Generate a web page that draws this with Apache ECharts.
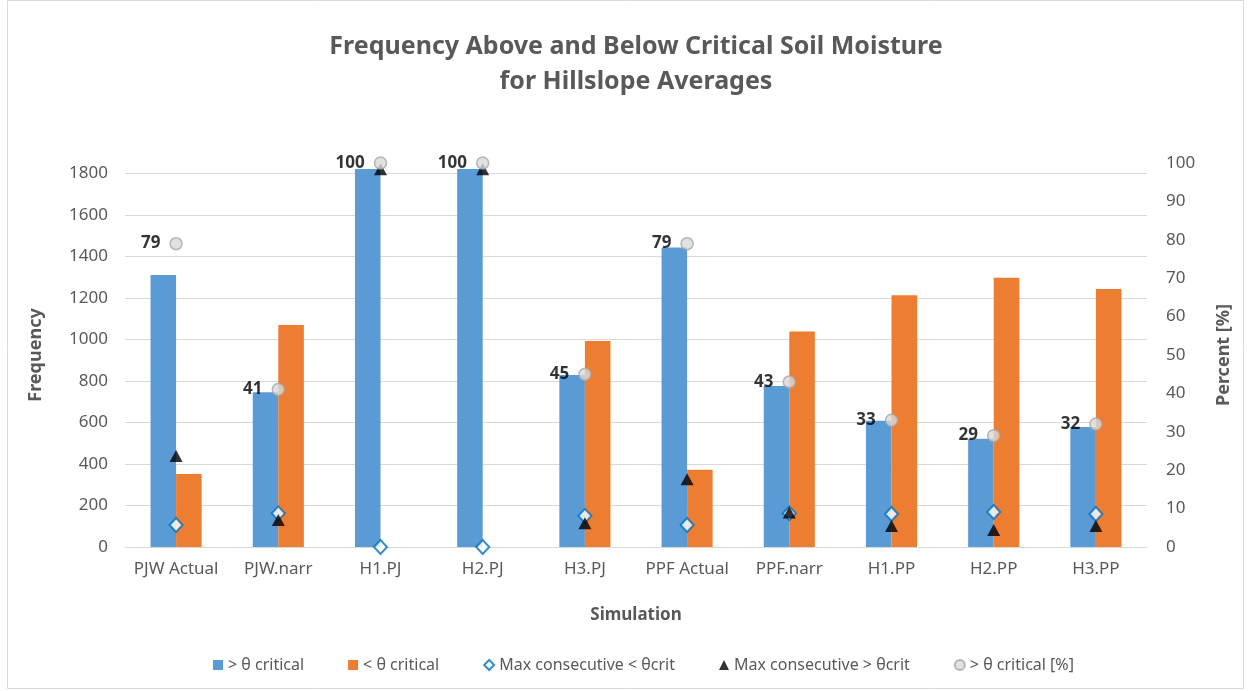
<!DOCTYPE html>
<html>
<head>
<meta charset="utf-8">
<title>Frequency Above and Below Critical Soil Moisture</title>
<script src="https://cdn.jsdelivr.net/npm/echarts@6/dist/echarts.min.js"></script>
<style>
  html, body { margin: 0; padding: 0; background: #fff; }
  #chart { width: 1250px; height: 691px; }
</style>
</head>
<body>
<div id="chart"></div>
<script>
// Simulation runs along the x axis
const categories = ['PJW Actual', 'PJW.narr', 'H1.PJ', 'H2.PJ', 'H3.PJ', 'PPF Actual', 'PPF.narr', 'H1.PP', 'H2.PP', 'H3.PP'];

// Frequency counts (left axis)
const aboveCritical = [1310, 745, 1821, 1821, 829, 1443, 776, 608, 521, 578];
const belowCritical = [352, 1070, 0, 0, 993, 372, 1038, 1213, 1297, 1243];
const maxConsecBelow = [106, 162, 0, 0, 150, 106, 162, 159, 169, 159];
const maxConsecAbove = [439, 130, 1820, 1820, 114, 327, 166, 101, 82, 101];

// Share of time above the critical value (right axis)
const abovePercent = [79, 41, 100, 100, 45, 79, 43, 33, 29, 32];

// Axis ranges
const freqMax = 1850, freqStep = 200;
const pctMax = 100, pctStep = 10;

const FONT = '"Noto Sans", "Open Sans", sans-serif';
const GREY = '#595959';

const chart = echarts.init(document.getElementById('chart'), null, { renderer: 'canvas' });

chart.setOption({
  backgroundColor: '#ffffff',
  animation: false,
  textStyle: { fontFamily: FONT },
  graphic: [{
    type: 'rect',
    shape: { x: 7.5, y: 0.5, width: 1236, height: 688 },
    style: { fill: 'none', stroke: '#d9d9d9', lineWidth: 1 },
    silent: true
  }],
  title: {
    text: 'Frequency Above and Below Critical Soil Moisture\nfor Hillslope Averages',
    left: 631,
    top: 24,
    textAlign: 'center',
    textStyle: {
      fontFamily: FONT,
      fontSize: 25,
      fontWeight: 'bold',
      color: GREY,
      lineHeight: 35
    }
  },
  legend: {
    bottom: 13,
    left: 208,
    itemGap: 44,
    itemWidth: 10,
    itemHeight: 10,
    textStyle: { fontFamily: FONT, fontSize: 16, color: GREY },
    data: [
      { name: '> θ critical', icon: 'rect' },
      { name: '< θ critical', icon: 'rect' },
      { name: 'Max consecutive < θcrit' },
      { name: 'Max consecutive > θcrit' },
      { name: '> θ critical [%]' }
    ]
  },
  grid: { left: 125, right: 103, top: 163, bottom: 144, containLabel: false },
  xAxis: {
    type: 'category',
    data: categories,
    name: 'Simulation',
    nameLocation: 'middle',
    nameGap: 60,
    nameTextStyle: { fontFamily: FONT, fontSize: 17, fontWeight: 'bold', color: GREY },
    axisLine: { lineStyle: { color: '#d9d9d9', width: 1 } },
    axisTick: { show: false },
    axisLabel: { fontFamily: FONT, fontSize: 17, color: GREY, margin: 14, interval: 0 }
  },
  yAxis: [{
    type: 'value',
    min: 0,
    max: freqMax,
    interval: freqStep,
    name: 'Frequency',
    nameLocation: 'middle',
    nameGap: 80,
    nameTextStyle: { fontFamily: FONT, fontSize: 18, fontWeight: 'bold', color: GREY },
    axisLine: { show: false },
    axisTick: { show: false },
    axisLabel: {
      fontFamily: FONT, fontSize: 17, color: GREY, margin: 17, showMaxLabel: false,
      formatter: v => String(v)
    },
    splitLine: { show: true, showMaxLine: false, lineStyle: { color: '#d9d9d9', width: 1 } }
  }, {
    type: 'value',
    min: 0,
    max: pctMax,
    interval: pctStep,
    name: 'Percent [%]',
    nameLocation: 'middle',
    nameGap: 68,
    nameTextStyle: { fontFamily: FONT, fontSize: 18, fontWeight: 'bold', color: GREY },
    axisLine: { show: false },
    axisTick: { show: false },
    axisLabel: { fontFamily: FONT, fontSize: 17, color: GREY, margin: 19, formatter: v => String(v) },
    splitLine: { show: false }
  }],
  series: [{
    name: '> θ critical',
    type: 'bar',
    data: aboveCritical,
    barWidth: '25%',
    barGap: '0%',
    itemStyle: { color: '#5b9bd5' }
  }, {
    name: '< θ critical',
    type: 'bar',
    data: belowCritical,
    barWidth: '25%',
    barGap: '0%',
    itemStyle: { color: '#ed7d31' }
  }, {
    name: 'Max consecutive < θcrit',
    type: 'scatter',
    data: maxConsecBelow,
    symbol: 'diamond',
    symbolSize: [13, 14],
    itemStyle: { color: '#ffffff', borderColor: '#0070c0', borderWidth: 2 },
    z: 3
  }, {
    name: 'Max consecutive > θcrit',
    type: 'scatter',
    data: maxConsecAbove,
    symbol: 'triangle',
    symbolSize: [13, 12],
    itemStyle: { color: '#000000' },
    z: 4
  }, {
    name: '> θ critical [%]',
    type: 'scatter',
    yAxisIndex: 1,
    data: abovePercent,
    symbol: 'circle',
    symbolSize: 12,
    itemStyle: { color: '#d9d9d9', borderColor: '#a6a6a6', borderWidth: 1.5 },
    label: {
      show: true,
      position: 'left',
      distance: 9,
      fontFamily: FONT,
      fontSize: 17,
      fontWeight: 'bold',
      color: '#000000'
    },
    z: 5
  }]
});
</script>
</body>
</html>
